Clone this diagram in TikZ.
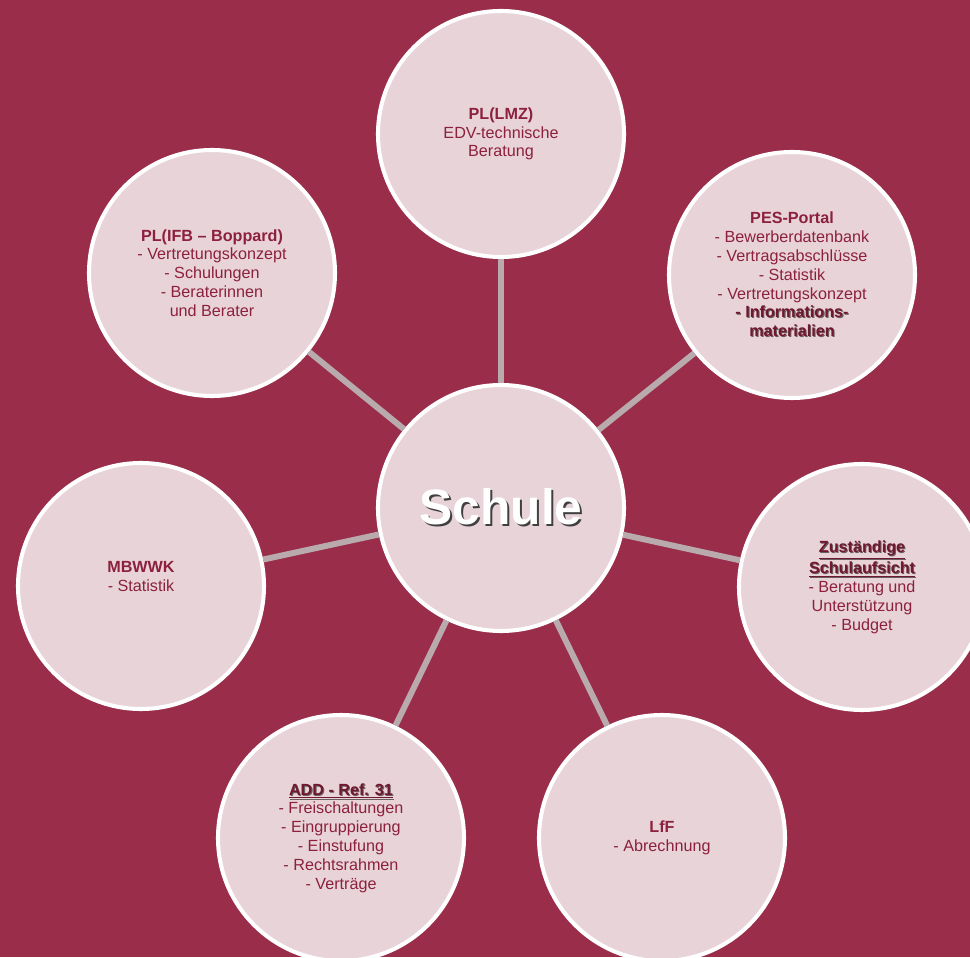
\documentclass[tikz,border=0pt]{standalone}
\usepackage{fontspec}
\setmainfont{Liberation Sans}
\definecolor{bgred}{RGB}{154,45,74}
\definecolor{rosefill}{RGB}{232,212,216}
\definecolor{inkred}{RGB}{140,32,62}
\definecolor{inkdark}{RGB}{112,24,48}
\definecolor{linkgray}{RGB}{185,170,174}
\definecolor{shadowgray}{RGB}{105,95,98}
\newcommand\shadowtxt[1]{\leavevmode\rlap{\kern0.6pt\raisebox{-0.6pt}{\color{shadowgray}#1}}{\color{inkdark}#1}}
\newcommand\shadowul[1]{\shadowtxt{\underline{#1}}}
\tikzset{
    amt/.style={circle, draw=white, fill=rosefill, line width=2.3pt, minimum size=4.92cm, align=center, text=inkred},
    hub/.style={circle, draw=white, fill=rosefill, line width=2.3pt, minimum size=4.92cm},
    link/.style={draw=linkgray, line width=3.4pt}
}

\begin{document}
\begin{tikzpicture}
  [
    every node/.style = {font=\fontsize{9.2}{10.7}\selectfont},
  ]
  \fill[bgred] (-10.02,-8.98) rectangle (9.38,10.16);
  \useasboundingbox (-10.02,-8.98) rectangle (9.38,10.16);
  \node [hub] (schule) at (0,0) {};
  \node (schulelabel) at (schule.center) {\fontsize{28.3}{34}\selectfont\bfseries
    \rlap{\kern1.2pt\raisebox{-1.2pt}{\color{black!75}Schule}}\textcolor{white}{Schule}};
  \node [amt] (lmz) at (0,7.48) {\textbf{PL(LMZ)}\\EDV-technische\\Beratung};
  \node [amt] (pes) at (5.82,4.66) {\textbf{PES-Portal}\\- Bewerberdatenbank\\- Vertragsabschlüsse\\- Statistik\\- Vertretungskonzept\\
    \textbf{\shadowtxt{- Informations-}}\\\textbf{\shadowtxt{materialien}}};
  \node [amt] (aufsicht) at (7.22,-1.58) {\textbf{\shadowul{Zuständige}}\\\textbf{\shadowul{Schulaufsicht}}\\- Beratung und\\Unterstützung\\- Budget};
  \node [amt] (lff) at (3.22,-6.60) {\textbf{LfF}\\- Abrechnung};
  \node [amt] (add) at (-3.20,-6.60) {\textbf{\shadowul{ADD - Ref. 31}}\\- Freischaltungen\\- Eingruppierung\\- Einstufung\\- Rechtsrahmen\\- Verträge};
  \node [amt] (mbwwk) at (-7.20,-1.56) {\textbf{MBWWK}\\- Statistik\\\mbox{}};
  \node [amt] (ifb) at (-5.78,4.70) {\textbf{PL(IFB – Boppard)}\\- Vertretungskonzept\\- Schulungen\\- Beraterinnen\\und Berater};
  % connectors
  \foreach \n in {lmz, pes, aufsicht, lff, add, mbwwk, ifb}
    \draw [link] (schule) -- (\n);
\end{tikzpicture}
\end{document}
